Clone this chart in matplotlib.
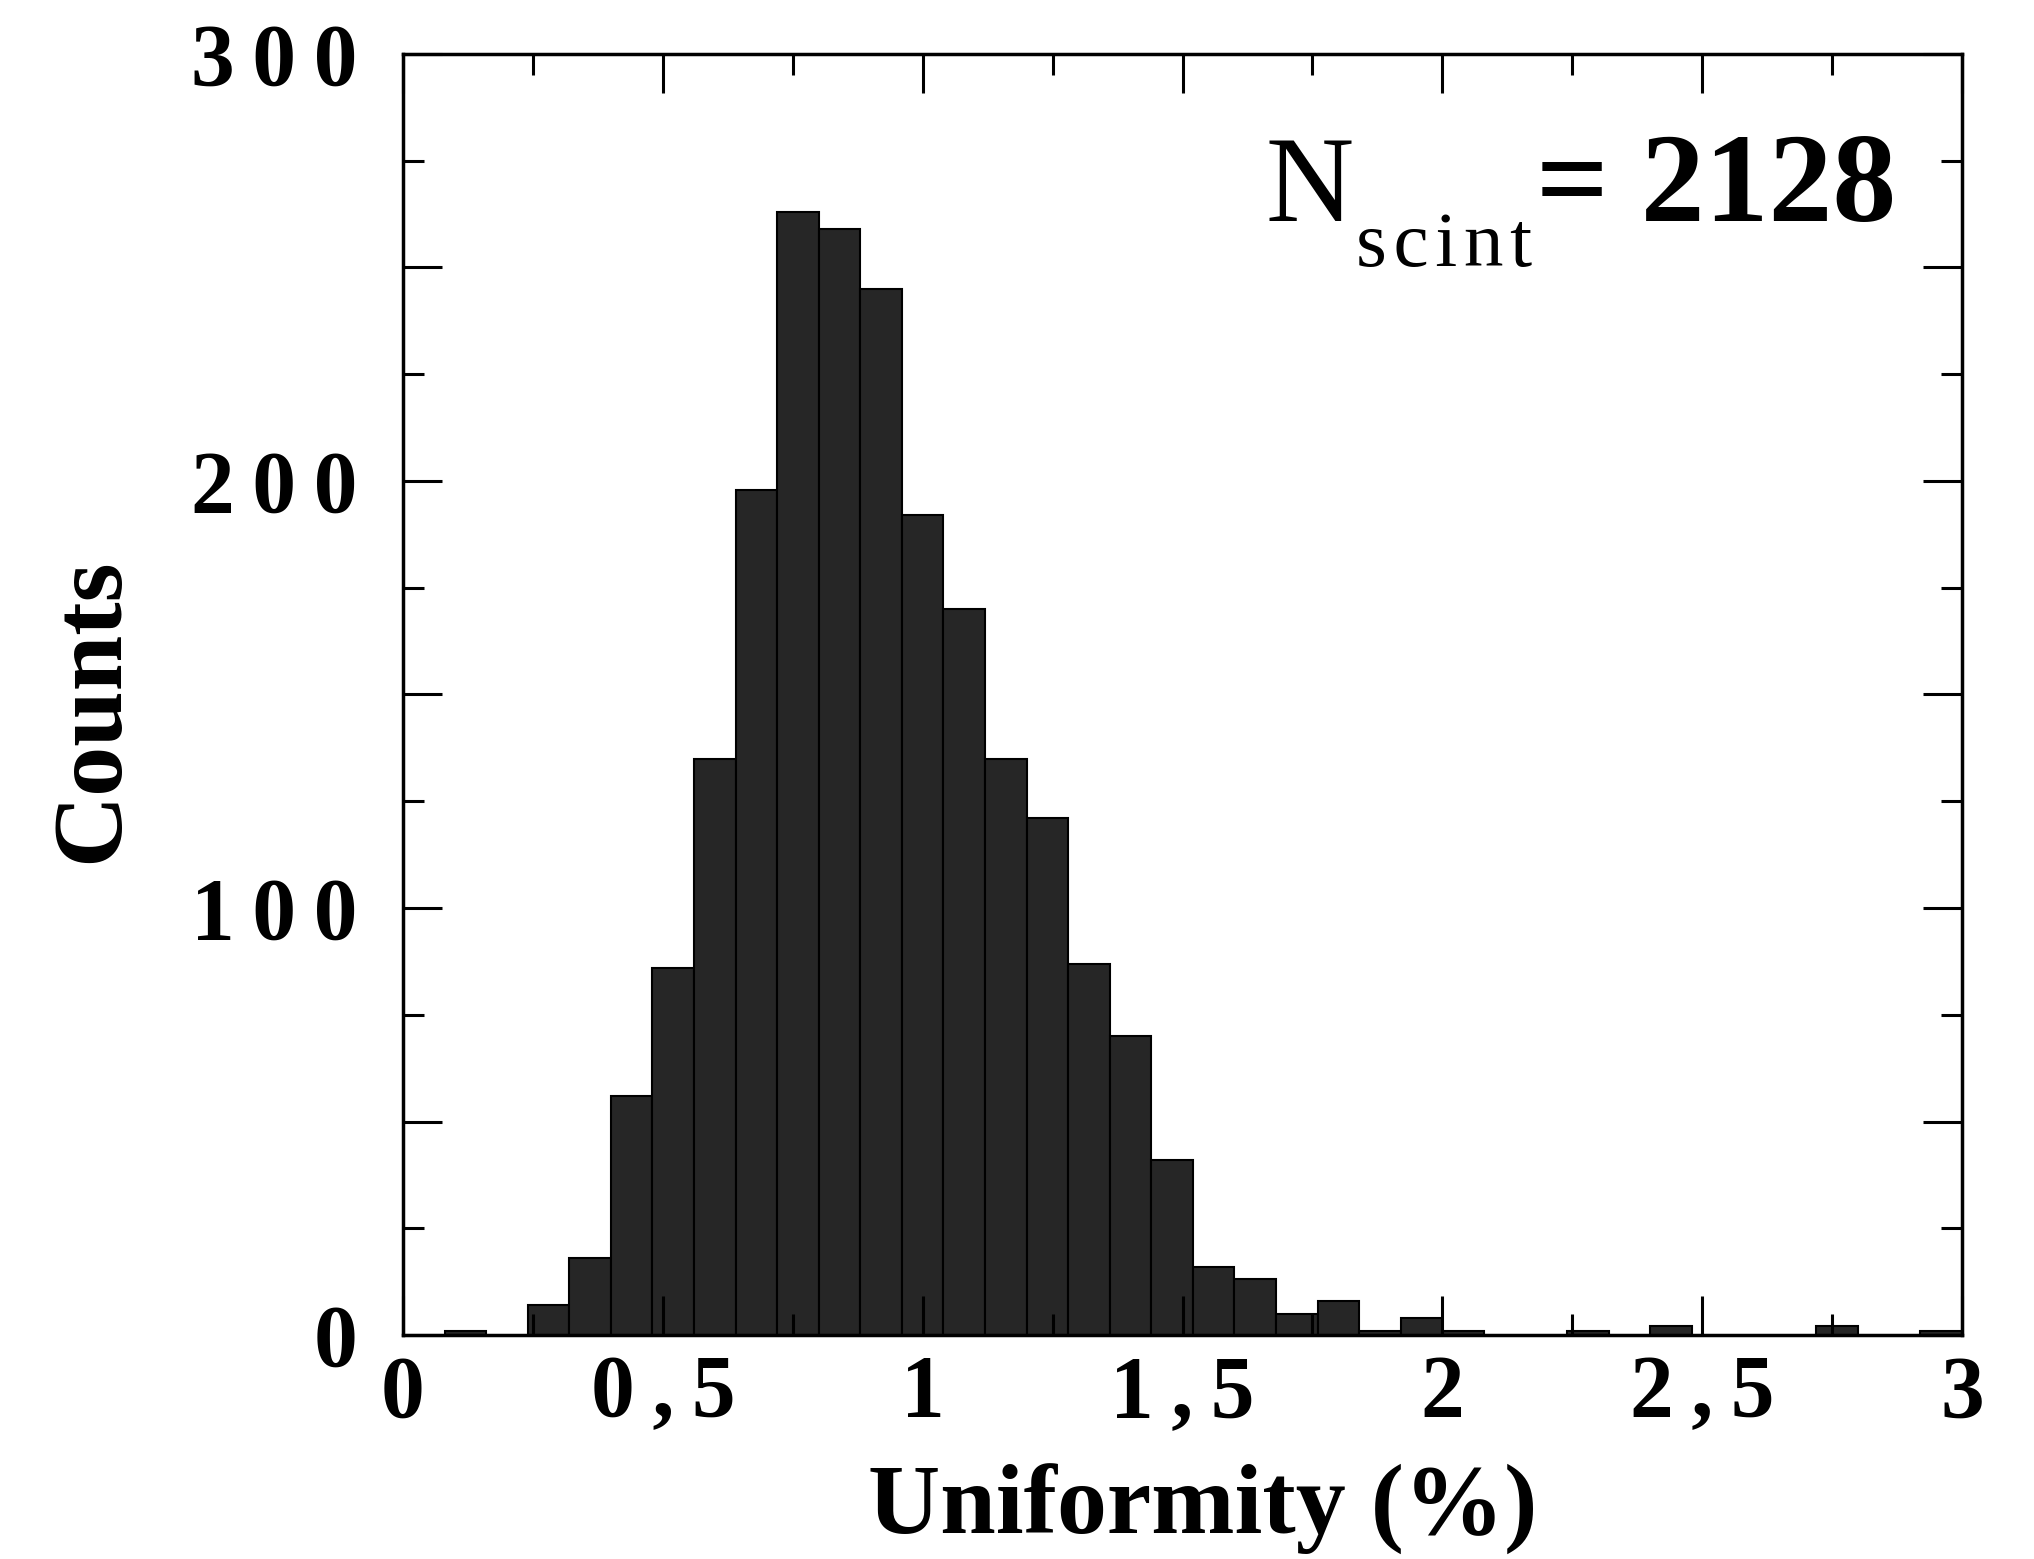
import numpy as np
import matplotlib
matplotlib.use("Agg")
import matplotlib.pyplot as plt
from matplotlib.ticker import FixedLocator, FixedFormatter

plt.rcParams['font.family'] = ['Liberation Serif', 'DejaVu Serif']

# Histogram data (bin left edges in %, width 0.08) and counts
bin_lefts = [0.08, 0.24, 0.32, 0.40, 0.48, 0.56, 0.64, 0.72, 0.80, 0.88,
             0.96, 1.04, 1.12, 1.20, 1.28, 1.36, 1.44, 1.52, 1.60, 1.68,
             1.76, 1.84, 1.92, 2.00, 2.24, 2.40, 2.72, 2.92]
counts = [1, 7, 18, 56, 86, 135, 198, 263, 259, 245,
          192, 170, 135, 121, 87, 70, 41, 16, 13, 5,
          8, 1, 4, 1, 1, 2, 2, 1]
bin_width = 0.08

x_ticks = [0, 0.5, 1, 1.5, 2, 2.5, 3]
x_ticklabels = ['0', '0\u2009,\u20095', '1', '1\u2009,\u20095', '2', '2\u2009,\u20095', '3']
y_ticks = [0, 50, 100, 150, 200, 250, 300]
y_ticklabels = ['0', '', '1\u20090\u20090', '', '2\u20090\u20090', '', '3\u20090\u20090']

W, H = 2034, 1559
fig = plt.figure(figsize=(W / 100, H / 100), dpi=100)
ax = fig.add_axes([403 / W, 1 - 1335 / H, (1962 - 403) / W, (1335 - 54) / H])

ax.bar(bin_lefts, counts, width=bin_width, align='edge',
       facecolor='#262626', edgecolor='black', linewidth=1.5)

ax.set_xlim(0, 3)
ax.set_ylim(0, 300)

ax.xaxis.set_major_locator(FixedLocator(x_ticks))
ax.xaxis.set_major_formatter(FixedFormatter(x_ticklabels))
ax.xaxis.set_minor_locator(FixedLocator([0.25, 0.75, 1.25, 1.75, 2.25, 2.75]))
ax.yaxis.set_major_locator(FixedLocator(y_ticks))
ax.yaxis.set_major_formatter(FixedFormatter(y_ticklabels))
ax.yaxis.set_minor_locator(FixedLocator([25, 75, 125, 175, 225, 275]))

ax.tick_params(which='both', direction='in', top=True, right=True, width=2.2, color='black')
ax.tick_params(which='major', length=28)
ax.tick_params(which='minor', length=15)
ax.tick_params(axis='y', which='major', pad=33, labelsize=63)
ax.tick_params(axis='x', which='major', pad=14, labelsize=63)
for lab in ax.get_xticklabels() + ax.get_yticklabels():
    lab.set_fontweight('bold')

for sp in ax.spines.values():
    sp.set_linewidth(2.5)

# Axis labels
ax.text(-0.199, 0.488, 'Counts', transform=ax.transAxes, rotation=90,
        ha='center', va='center', fontsize=72, fontweight='bold')
ax.text(0.513, -0.136, 'Uniformity (%)', transform=ax.transAxes,
        ha='center', va='center', fontsize=72, fontweight='bold')

# Annotation
ax.text(0.553, 0.870, 'N', transform=ax.transAxes, ha='left', va='baseline',
        fontsize=88)
ax.text(0.611, 0.8345, 's\u200ac\u200ai\u200an\u200at', transform=ax.transAxes,
        ha='left', va='baseline', fontsize=57)
ax.text(0.958, 0.870, '= 2128', transform=ax.transAxes, ha='right', va='baseline',
        fontsize=92, fontweight='bold')

fig.savefig('out.png', dpi=100, facecolor='white')
